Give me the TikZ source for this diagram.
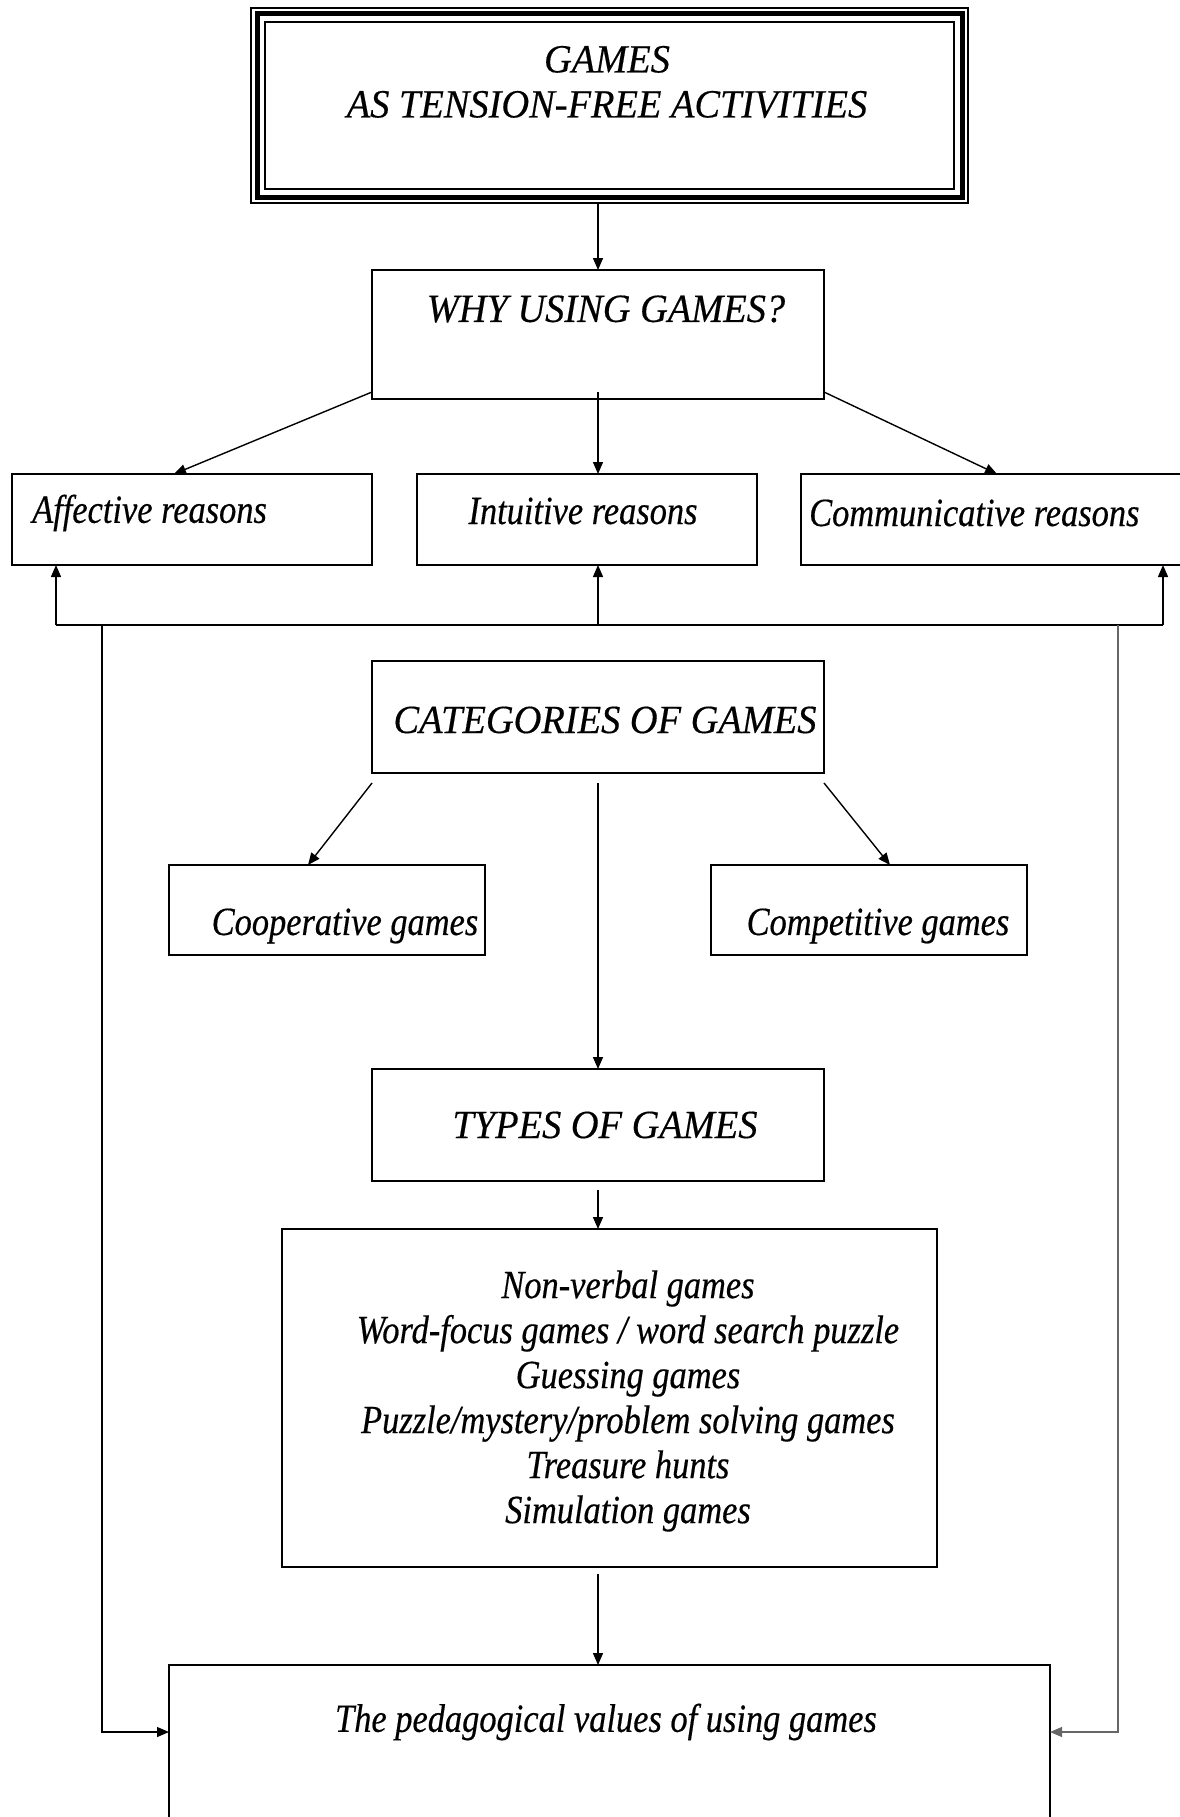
\documentclass[tikz,border=0pt]{standalone}
\usepackage{fontspec}
\setmainfont{Liberation Serif}[FakeStretch=0.86, FakeBold=0.4]
\newfontfamily\capsfont{Liberation Serif}[FakeStretch=0.96, FakeBold=0.4]
\usetikzlibrary{arrows.meta,calc}
\tikzset{
  box/.style={draw, line width=1.8pt, rectangle, inner sep=0pt, outer sep=0pt},
  txt/.style={font=\fontsize{40}{45}\selectfont\itshape, inner sep=0pt, align=center},
  ctxt/.style={font=\capsfont\fontsize{40}{45}\selectfont\itshape, inner sep=0pt, align=center},
  arr/.style={line width=1.4pt, -{Triangle[length=12pt,width=10pt]}},
  ln/.style={line width=1.4pt}
}
\begin{document}
\begin{tikzpicture}[x=1pt,y=-1pt]
\useasboundingbox (0,0) rectangle (1179,1817);
% boxes
\node[box, line width=1.6pt, minimum width=717pt, minimum height=195pt] (title) at (609.5,105.5) {};
\draw[line width=5pt] ([shift={(6,6)}]title.north west) rectangle ([shift={(-6,-6)}]title.south east);
\draw[line width=1.6pt] ([shift={(14,14)}]title.north west) rectangle ([shift={(-14,-14)}]title.south east);
\node[box, minimum width=452pt, minimum height=129pt] (why) at (598,334.5) {};
\node[box, minimum width=360pt, minimum height=91pt] (aff) at (192,519.5) {};
\node[box, minimum width=340pt, minimum height=91pt] (intu) at (587,519.5) {};
\node[box, minimum width=384pt, minimum height=91pt] (comm) at (993,519.5) {};
\node[box, minimum width=452pt, minimum height=112pt] (cat) at (598,717) {};
\node[box, minimum width=316pt, minimum height=90pt] (coop) at (327,910) {};
\node[box, minimum width=316pt, minimum height=90pt] (comp) at (869,910) {};
\node[box, minimum width=452pt, minimum height=112pt] (types) at (598,1125) {};
\node[box, minimum width=655pt, minimum height=338pt] (list) at (609.5,1398) {};
\node[box, minimum width=881pt, minimum height=175pt] (ped) at (609.5,1752.5) {};
% texts
\node[ctxt] (titleT) at (607,82) {GAMES\\AS TENSION-FREE ACTIVITIES};
\node[ctxt] (whyT) at (606,309) {WHY USING GAMES?};
\node[txt, anchor=west] (affT) at (32,513) {Affective reasons};
\node[txt] (intuT) at (583,511) {Intuitive reasons};
\node[txt, anchor=west] (commT) at (809,513) {Communicative reasons};
\node[ctxt] (catT) at (605,720) {CATEGORIES OF GAMES};
\node[txt] (coopT) at (345,926) {Cooperative games};
\node[txt] (compT) at (878,926) {Competitive games};
\node[ctxt] (typesT) at (605,1125) {TYPES OF GAMES};
\node[txt] (listT) at (628,1401) {Non-verbal games\\Word-focus games / word search puzzle\\Guessing games\\Puzzle/mystery/problem solving games\\Treasure hunts\\Simulation games};
\node[txt] (pedT) at (606,1722) {The pedagogical values of using games};
% connectors
\draw[arr] (title.south -| why.north) -- (why.north);
\draw[arr] ([yshift=7pt]why.south west) -- ([xshift=-18pt]aff.north);
\draw[arr] ([yshift=7pt]why.south) -- (why.south |- intu.north);
\draw[arr] ([yshift=7pt]why.south east) -- ([xshift=4pt]comm.north);
% feedback
\coordinate (fbL) at (56,625);
\coordinate (fbM) at (598,625);
\coordinate (fbR) at (1163,625);
\coordinate (vL) at (102,625);
\coordinate (vR) at (1118,625);
\draw[ln] (fbL) -- (fbR);
\draw[arr] (fbL) -- (aff.south -| fbL);
\draw[arr] (fbM) -- (intu.south -| fbM);
\draw[arr] (fbR) -- (comm.south -| fbR);
\draw[arr, line width=1.2pt] (vL) |- ([yshift=20.5pt]ped.west);
\draw[arr, line width=1.2pt, draw=black!60] (vR) |- ([yshift=20.5pt]ped.east);
% categories
\draw[arr] ([yshift=-10pt]cat.south west) -- ([xshift=-19pt]coop.north);
\draw[arr] ([yshift=-10pt]cat.south east) -- ([xshift=21pt]comp.north);
\draw[arr] ([yshift=-10pt]cat.south) -- (types.north);
\draw[arr] ([yshift=-9pt]types.south) -- (list.north -| types.south);
\draw[arr] ($(list.south -| types.south)+(0,7)$) -- (ped.north -| types.south);
\end{tikzpicture}
\end{document}
